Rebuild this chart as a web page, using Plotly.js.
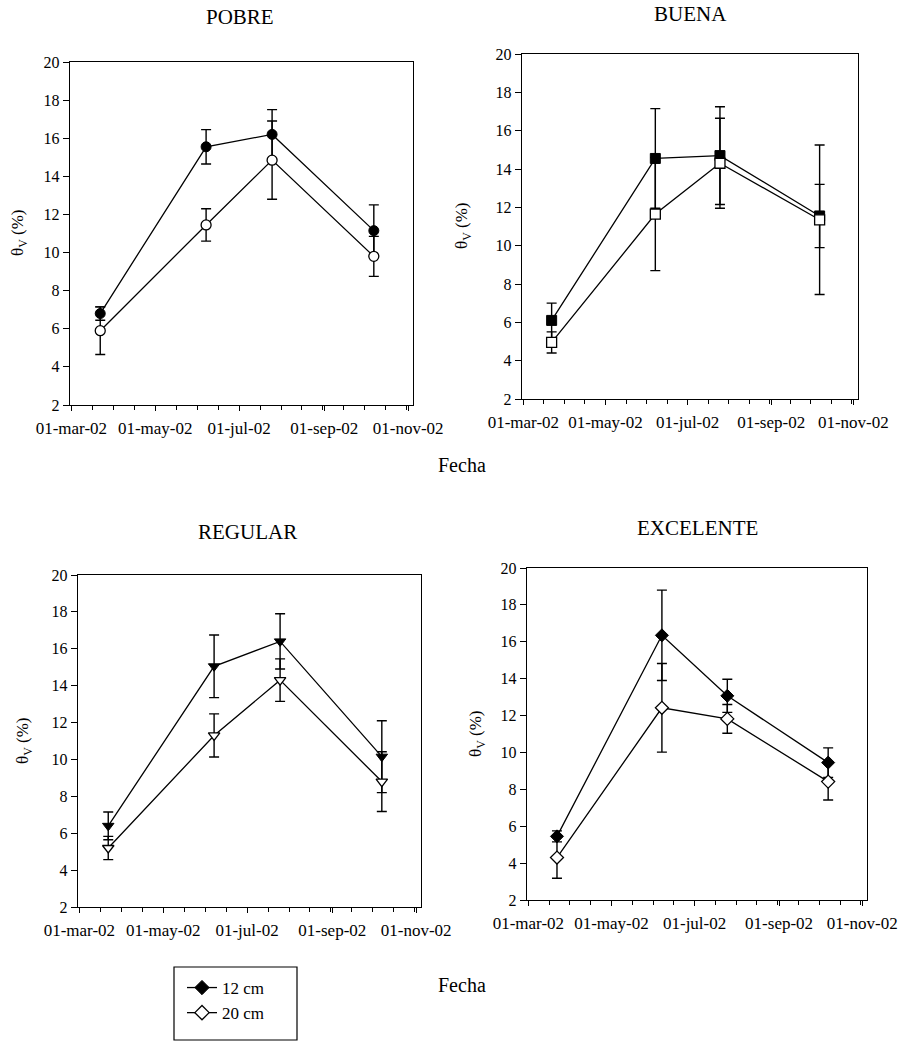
<!DOCTYPE html>
<html>
<head>
<meta charset="utf-8">
<script src="https://cdn.plot.ly/plotly-3.0.1.min.js"></script>
<style>
html,body{margin:0;padding:0;background:#fff;}
#chart{width:904px;height:1044px;}
</style>
</head>
<body>
<div id="chart"></div>
<script>
// ---- data ----
const sampleDates = ['2002-03-22', '2002-06-07', '2002-07-25', '2002-10-07'];
const tickDates = ['2002-03-01', '2002-05-01', '2002-07-01', '2002-09-01', '2002-11-01'];
const tickLabels = ['01-mar-02', '01-may-02', '01-jul-02', '01-sep-02', '01-nov-02'];
const panelTitles = ['POBRE', 'BUENA', 'REGULAR', 'EXCELENTE'];
const seriesNames = ['12 cm', '20 cm'];
const xAxisTitle = 'Fecha';
const yAxisTitle = 'θ<sub>V</sub> (%)';

const pobre12 = [6.8, 15.55, 16.2, 11.15];
const pobre12Err = [0.35, 0.9, 1.3, 1.35];
const pobre20 = [5.9, 11.45, 14.85, 9.8];
const pobre20Err = [1.25, 0.85, 2.05, 1.05];

const buena12 = [6.1, 14.55, 14.7, 11.55];
const buena12Err = [0.9, 2.6, 2.55, 1.65];
const buena20 = [4.95, 11.65, 14.3, 11.35];
const buena20Err = [0.55, 2.95, 2.35, 3.9];

const regular12 = [6.4, 15.05, 16.4, 10.15];
const regular12Err = [0.75, 1.7, 1.5, 1.95];
const regular20 = [5.2, 11.3, 14.3, 8.8];
const regular20Err = [0.63, 1.17, 1.15, 1.62];

const excelente12 = [5.45, 16.35, 13.07, 9.45];
const excelente12Err = [0.3, 2.45, 0.9, 0.8];
const excelente20 = [4.3, 12.42, 11.82, 8.42];
const excelente20Err = [1.12, 2.4, 0.78, 1.0];

// ---- styling / layout ----
const FONT = 'Liberation Serif, Times New Roman, serif';
const INK = '#000';
const W = 904, H = 1044;
const px = v => v / W;
const py = v => 1 - v / H;

const panels = [
  {title: panelTitles[0], s12: pobre12, e12: pobre12Err, s20: pobre20, e20: pobre20Err, symbol: 'circle',
   box: [70, 413, 62, 405], titlePos: [240, 17], yTitlePos: [19, 233]},
  {title: panelTitles[1], s12: buena12, e12: buena12Err, s20: buena20, e20: buena20Err, symbol: 'square',
   box: [522, 858, 54, 399], titlePos: [690, 14], yTitlePos: [463, 226]},
  {title: panelTitles[2], s12: regular12, e12: regular12Err, s20: regular20, e20: regular20Err, symbol: 'triangle-down',
   box: [78, 421, 575, 907], titlePos: [247, 532], yTitlePos: [24, 741]},
  {title: panelTitles[3], s12: excelente12, e12: excelente12Err, s20: excelente20, e20: excelente20Err, symbol: 'diamond',
   box: [527, 867, 568, 900], titlePos: [697, 528], yTitlePos: [477, 734]}
];

const traces = [];
const layout = {
  width: W, height: H,
  margin: {l: 0, r: 0, t: 0, b: 0},
  paper_bgcolor: '#fff', plot_bgcolor: '#fff',
  font: {family: FONT, color: INK, size: 16},
  showlegend: true,
  legend: {
    x: px(182), y: py(970), xanchor: 'left', yanchor: 'top',
    bgcolor: 'rgba(0,0,0,0)', borderwidth: 0,
    font: {family: FONT, size: 17, color: INK},
    tracegroupgap: 0, itemwidth: 30
  },
  annotations: [],
  shapes: [{
    type: 'rect', xref: 'paper', yref: 'paper',
    x0: px(174), x1: px(297), y0: py(967), y1: py(1040),
    line: {color: INK, width: 1.2}, fillcolor: 'rgba(0,0,0,0)'
  }]
};

const errStyle = arr => ({type: 'data', array: arr, visible: true, color: INK, thickness: 1.4, width: 5});

panels.forEach((p, i) => {
  const n = i === 0 ? '' : String(i + 1);
  const xa = 'x' + n, ya = 'y' + n;
  traces.push({
    type: 'scatter', mode: 'lines+markers', x: sampleDates, y: p.s12,
    xaxis: xa, yaxis: ya, showlegend: false, name: seriesNames[0],
    line: {color: INK, width: 1.3},
    marker: {symbol: p.symbol, size: 10, color: INK, line: {color: INK, width: 1}},
    error_y: errStyle(p.e12), cliponaxis: false
  });
  traces.push({
    type: 'scatter', mode: 'lines+markers', x: sampleDates, y: p.s20,
    xaxis: xa, yaxis: ya, showlegend: false, name: seriesNames[1],
    line: {color: INK, width: 1.3},
    marker: {symbol: p.symbol, size: 10, color: '#fff', line: {color: INK, width: 1.3}},
    error_y: errStyle(p.e20), cliponaxis: false
  });
  const [x0, x1, yTop, yBot] = p.box;
  layout['xaxis' + n] = {
    domain: [px(x0), px(x1)], anchor: ya, type: 'date',
    range: ['2002-02-28', '2002-11-04 12:00'],
    tickmode: 'array', tickvals: tickDates, ticktext: tickLabels,
    ticks: 'outside', ticklen: 5, tickwidth: 1, tickcolor: INK,
    ticklabelstandoff: 2,
    minor: {tickmode: 'linear', tick0: '2002-03-01', dtick: 15.25 * 86400000, ticks: 'outside', ticklen: 4, tickwidth: 1, tickcolor: INK},
    showline: true, mirror: true, linecolor: INK, linewidth: 1.3,
    showgrid: false, zeroline: false, fixedrange: true,
    tickfont: {family: FONT, size: 17, color: INK}
  };
  layout['yaxis' + n] = {
    domain: [py(yBot), py(yTop)], anchor: xa,
    range: [2, 20], tickmode: 'linear', tick0: 2, dtick: 2,
    ticks: 'outside', ticklen: 6, tickwidth: 1, tickcolor: INK,
    showline: true, mirror: true, linecolor: INK, linewidth: 1.3,
    showgrid: false, zeroline: false, fixedrange: true,
    tickfont: {family: FONT, size: 16, color: INK}
  };
  layout.annotations.push({
    xref: 'paper', yref: 'paper', x: px(p.titlePos[0]), y: py(p.titlePos[1]),
    xanchor: 'center', yanchor: 'middle', showarrow: false, text: p.title,
    font: {family: FONT, size: 21, color: INK}
  });
  layout.annotations.push({
    xref: 'paper', yref: 'paper', x: px(p.yTitlePos[0]), y: py(p.yTitlePos[1]),
    xanchor: 'center', yanchor: 'middle', showarrow: false, text: yAxisTitle, textangle: -90,
    font: {family: FONT, size: 17, color: INK}
  });
});

// shared axis titles
[[462, 465], [462, 985]].forEach(pos => {
  layout.annotations.push({
    xref: 'paper', yref: 'paper', x: px(pos[0]), y: py(pos[1]),
    xanchor: 'center', yanchor: 'middle', showarrow: false, text: xAxisTitle,
    font: {family: FONT, size: 20, color: INK}
  });
});

// legend entries (diamond symbols as in the reference legend)
traces.push({
  type: 'scatter', mode: 'lines+markers', x: [null], y: [null], xaxis: 'x4', yaxis: 'y4',
  name: seriesNames[0], showlegend: true,
  line: {color: INK, width: 1.3},
  marker: {symbol: 'diamond', size: 11, color: INK, line: {color: INK, width: 1}}
});
traces.push({
  type: 'scatter', mode: 'lines+markers', x: [null], y: [null], xaxis: 'x4', yaxis: 'y4',
  name: seriesNames[1], showlegend: true,
  line: {color: INK, width: 1.3},
  marker: {symbol: 'diamond', size: 11, color: '#fff', line: {color: INK, width: 1.3}}
});

Plotly.newPlot('chart', traces, layout, {staticPlot: true, displayModeBar: false});
</script>
</body>
</html>
